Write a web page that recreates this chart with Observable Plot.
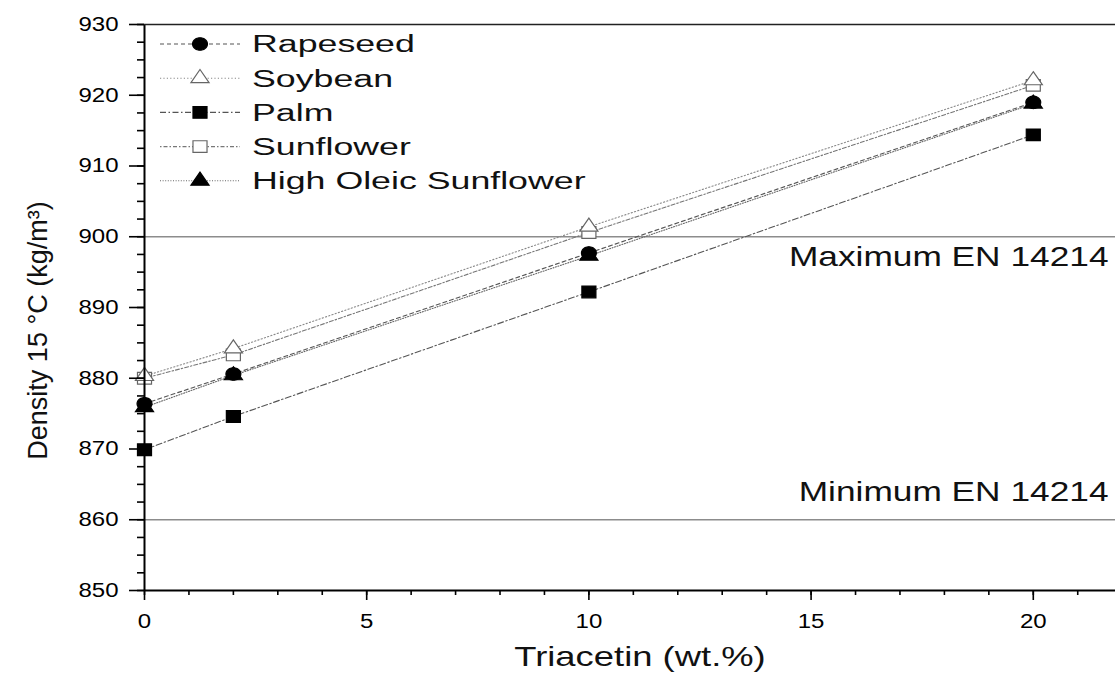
<!DOCTYPE html>
<html>
<head>
<meta charset="utf-8">
<script src="https://cdn.jsdelivr.net/npm/d3@7"></script>
<script src="https://cdn.jsdelivr.net/npm/@observablehq/plot@0.6"></script>
<style>
  body { margin: 0; background: #fff; }
  #chart { position: relative; width: 1115px; height: 677px; font-family: "Liberation Sans", Arial, sans-serif; }
  #legend { position: absolute; left: 0; top: 0; pointer-events: none; }
</style>
</head>
<body>
<div id="chart"></div>
<script>
// Triacetin content (wt.%) of each blend
const triacetin = [0, 2, 10, 20];

// Density at 15 °C (kg/m³) of each biodiesel blend
const oils = ["Rapeseed", "Soybean", "Palm", "Sunflower", "High Oleic Sunflower"];
const rapeseed  = [876.4, 880.6, 897.7, 919.0];
const soybean   = [880.3, 884.2, 901.4, 922.1];
const palm      = [869.9, 874.6, 892.2, 914.4];
const sunflower = [880.0, 883.3, 900.6, 921.4];
const highOleic = [875.9, 880.4, 897.3, 918.8];

// EN 14214 density limits
const limitLabels = ["Maximum EN 14214", "Minimum EN 14214"];
const limitValues = [900, 860];

// Axis titles and ticks
const xTitle = "Triacetin (wt.%)";
const yTitle = "Density 15 °C (kg/m³)";
const xTicks = [0, 5, 10, 15, 20];
const xMinorTicks = [0, 1, 2, 3, 4, 5, 6, 7, 8, 9, 10, 11, 12, 13, 14, 15, 16, 17, 18, 19, 20, 21];
const yTicks = [850, 860, 870, 880, 890, 900, 910, 920, 930];
const yMinorTicks = d3.range(850, 930.1, 2.5);

const seriesValues = [rapeseed, soybean, palm, sunflower, highOleic];
const rows = oils.flatMap((oil, i) =>
  triacetin.map((t, j) => ({oil, triacetin: t, density: seriesValues[i][j]})));
const limits = limitLabels.map((label, i) => ({label, value: limitValues[i]}));

// The figure is drawn slightly wide: glyphs and markers are stretched horizontally
const KX = 1.2;
function stretchContext(ctx, k) {
  return {
    moveTo: (x, y) => ctx.moveTo(x * k, y),
    lineTo: (x, y) => ctx.lineTo(x * k, y),
    closePath: () => ctx.closePath(),
    rect: (x, y, w, h) => {
      ctx.moveTo(x * k, y); ctx.lineTo((x + w) * k, y);
      ctx.lineTo((x + w) * k, y + h); ctx.lineTo(x * k, y + h); ctx.closePath();
    },
    arc: (x, y, r, a0, a1) => {
      const n = 48;
      for (let i = 0; i <= n; ++i) {
        const a = a0 + (a1 - a0) * i / n;
        const px = (x + r * Math.cos(a)) * k, py = y + r * Math.sin(a);
        if (i === 0) ctx.moveTo(px, py); else ctx.lineTo(px, py);
      }
      ctx.closePath();
    }
  };
}
const wide = sym => ({draw(ctx, size) { sym.draw(stretchContext(ctx, KX), size); }});

// Line and marker style of each oil
const style = {
  "Rapeseed":             {symbol: wide(d3.symbolCircle),   r: 6.2, fill: "#000", stroke: "#000", line: "#555", dash: "4,3"},
  "Soybean":              {symbol: wide(d3.symbolTriangle), r: 5.6, fill: "#fff", stroke: "#666", line: "#888", dash: "1.2,2.2"},
  "Palm":                 {symbol: wide(d3.symbolSquare),   r: 6.6, fill: "#000", stroke: "#000", line: "#555", dash: "6,2.5,1.5,2.5"},
  "Sunflower":            {symbol: wide(d3.symbolSquare),   r: 6.6, fill: "#fff", stroke: "#666", line: "#777", dash: "1.5,2,4,2"},
  "High Oleic Sunflower": {symbol: wide(d3.symbolTriangle), r: 5.6, fill: "#000", stroke: "#000", line: "#666", dash: "1,1.6"}
};
const drawOrder = ["Palm", "Rapeseed", "High Oleic Sunflower", "Sunflower", "Soybean"];

const lineMarks = oils.map(oil => Plot.line(rows.filter(d => d.oil === oil), {
  x: "triacetin", y: "density", stroke: style[oil].line, strokeWidth: 1.1, strokeDasharray: style[oil].dash
}));
const dotMarks = drawOrder.map(oil => Plot.dot(rows.filter(d => d.oil === oil), {
  x: "triacetin", y: "density", symbol: style[oil].symbol, r: style[oil].r,
  fill: style[oil].fill, stroke: style[oil].stroke, strokeWidth: 1.2
}));

const chart = Plot.plot({
  width: 1115,
  height: 677,
  marginLeft: 144,
  marginRight: 0,
  marginTop: 24,
  marginBottom: 87,
  style: {fontFamily: "'Liberation Sans', Arial, sans-serif", color: "#000", background: "#fff"},
  x: {domain: [0, 21.85]},
  y: {domain: [850, 930]},
  marks: [
    Plot.ruleY(limits, {y: "value", stroke: "#8c8c8c", strokeWidth: 1.3}),
    Plot.text(limits.slice(0, 1), {y: "value", text: "label", frameAnchor: "right", textAnchor: "end",
      lineAnchor: "top", dx: -7, dy: 9, fontSize: 28, fill: "#111"}),
    Plot.text(limits.slice(1), {y: "value", text: "label", frameAnchor: "right", textAnchor: "end",
      lineAnchor: "bottom", dx: -7, dy: -19, fontSize: 28, fill: "#111"}),
    ...lineMarks,
    ...dotMarks,
    // minor and major ticks
    Plot.axisY({ticks: yMinorTicks, tickSize: 7, tickFormat: () => "", label: null, strokeWidth: 1.6}),
    Plot.axisY({ticks: yTicks, tickSize: 15, tickPadding: 11, fontSize: 20, label: null, strokeWidth: 1.6}),
    Plot.axisX({ticks: xMinorTicks, tickSize: 5, tickFormat: () => "", label: null, strokeWidth: 1.6}),
    Plot.axisX({ticks: xTicks, tickSize: 10, tickPadding: 13, fontSize: 20, label: null, strokeWidth: 1.6}),
    // axis lines and top border
    Plot.ruleX([0], {stroke: "#000", strokeWidth: 2}),
    Plot.ruleY([850], {stroke: "#000", strokeWidth: 2}),
    Plot.ruleY([930], {stroke: "#222", strokeWidth: 1.5}),
    // axis titles
    Plot.text([xTitle], {frameAnchor: "bottom", dx: 10, dy: 75, fontSize: 28, fill: "#111"}),
    Plot.text([yTitle], {frameAnchor: "left", textAnchor: "middle", rotate: -90, dx: -106, dy: 23, fontSize: 27, fill: "#111"})
  ]
});

const container = document.getElementById("chart");
container.appendChild(chart);

// Legend drawn inside the plot frame, upper left
const legend = d3.select(container).append("svg")
  .attr("id", "legend").attr("width", 1115).attr("height", 677)
  .style("font-family", "'Liberation Sans', Arial, sans-serif");
const rowY = i => 44 + i * 34.2;
oils.forEach((oil, i) => {
  const s = style[oil];
  const g = legend.append("g").attr("transform", `translate(0,${rowY(i)})`);
  g.append("line").attr("x1", 160).attr("x2", 240).attr("y1", 0).attr("y2", 0)
    .attr("stroke", s.line).attr("stroke-width", 1.1).attr("stroke-dasharray", s.dash);
  g.append("path").attr("transform", "translate(200,0)")
    .attr("d", d3.symbol(s.symbol, Math.PI * s.r * s.r)())
    .attr("fill", s.fill).attr("stroke", s.stroke).attr("stroke-width", 1.2);
  g.append("text").attr("x", 252).attr("y", 0).attr("dy", "0.36em")
    .attr("font-size", 23.5).attr("fill", "#111").attr("class", "legend-label").text(oil);
});

// Horizontal stretch of the text
function widen(el, k) {
  const len = el.getComputedTextLength();
  if (len > 0) {
    el.setAttribute("textLength", (len * k).toFixed(2));
    el.setAttribute("lengthAdjust", "spacingAndGlyphs");
  }
}
const stretchOf = new Map([
  ...yTicks.map(v => [String(v), 1.2]),
  ...xTicks.map(v => [String(v), 1.2]),
  ...limitLabels.map(s => [s, 1.26]),
  [xTitle, 1.3]
]);
d3.select(chart).selectAll("text").each(function() {
  const k = stretchOf.get(this.textContent);
  if (k) widen(this, k);
});
legend.selectAll("text.legend-label").each(function() { widen(this, 1.52); });
</script>
</body>
</html>
